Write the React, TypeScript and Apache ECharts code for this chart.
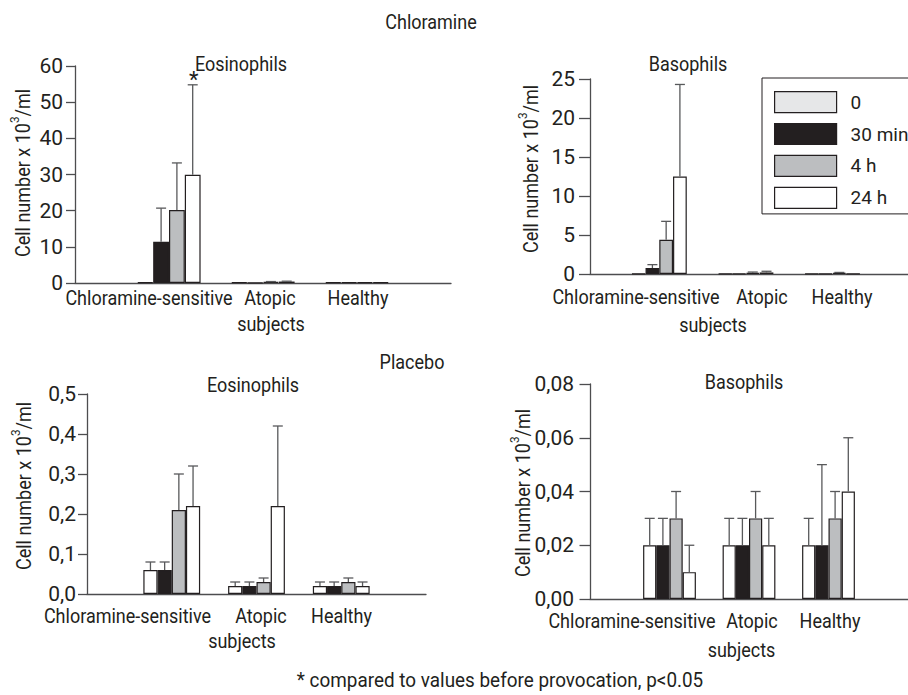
import React, { useEffect, useRef } from 'react';
import * as echarts from 'echarts';

// ---------- data ----------
const categories = ['Chloramine-sensitive', 'Atopic', 'Healthy'];
const categoryPos = [1, 2, 3];
const timePoints = ['0', '30 min', '4 h', '24 h'];

// Chloramine – Eosinophils (rows = time points, cols = categories)
const chlEosMean = [
  [0.2, 0.2, 0.2],
  [11.4, 0.1, 0.2],
  [20.2, 0.3, 0.2],
  [29.9, 0.4, 0.2],
];
const chlEosUpper = [
  [0.2, 0.2, 0.2],
  [20.7, 0.1, 0.2],
  [33.2, 0.4, 0.2],
  [54.8, 0.5, 0.2],
];
const chlEosSig = [
  [0, 0, 0],
  [0, 0, 0],
  [0, 0, 0],
  [1, 0, 0],
];
const chlEosTicks = [0, 10, 20, 30, 40, 50, 60];

// Chloramine – Basophils
const chlBasMean = [
  [0.05, 0.05, 0.02],
  [0.77, 0.05, 0.05],
  [4.4, 0.15, 0.15],
  [12.5, 0.2, 0.02],
];
const chlBasUpper = [
  [0.05, 0.05, 0.02],
  [1.2, 0.05, 0.05],
  [6.75, 0.25, 0.2],
  [24.3, 0.35, 0.02],
];
const chlBasSig = [
  [0, 0, 0],
  [0, 0, 0],
  [0, 0, 0],
  [0, 0, 0],
];
const chlBasTicks = [0, 5, 10, 15, 20, 25];

// Placebo – Eosinophils
const plaEosMean = [
  [0.06, 0.02, 0.02],
  [0.06, 0.02, 0.02],
  [0.21, 0.03, 0.03],
  [0.22, 0.22, 0.02],
];
const plaEosUpper = [
  [0.08, 0.03, 0.03],
  [0.08, 0.03, 0.03],
  [0.3, 0.04, 0.04],
  [0.32, 0.42, 0.03],
];
const plaEosSig = [
  [0, 0, 0],
  [0, 0, 0],
  [0, 0, 0],
  [0, 0, 0],
];
const plaEosTicks = [0, 0.1, 0.2, 0.3, 0.4, 0.5];

// Placebo – Basophils
const plaBasMean = [
  [0.02, 0.02, 0.02],
  [0.02, 0.02, 0.02],
  [0.03, 0.03, 0.03],
  [0.01, 0.02, 0.04],
];
const plaBasUpper = [
  [0.03, 0.03, 0.03],
  [0.03, 0.03, 0.05],
  [0.04, 0.04, 0.04],
  [0.02, 0.03, 0.06],
];
const plaBasSig = [
  [0, 0, 0],
  [0, 0, 0],
  [0, 0, 0],
  [0, 0, 0],
];
const plaBasTicks = [0, 0.02, 0.04, 0.06, 0.08];

// ---------- style / layout ----------
const FONT = 'Roboto, "Liberation Sans", sans-serif';
const TXT = '#231f20';
const AXIS = '#4d4d4f';
const ERR = '#58595b';
const TEXT_SCALE = 0.9;

type Panel = {
  mean: number[][];
  upper: number[][];
  sig: number[][];
  ticks: number[];
  decimals: number;
  grid: { left: number; top: number; width: number; height: number };
  xMin: number;
  xMax: number;
  barWidth: number;
  colors: string[];
  tickLen: number;
  labelMargin: number;
  title: string;
  titlePos: [number, number];
  yTitlePos: [number, number];
  labelPos: [number, number][]; // Chloramine-sensitive, Atopic, Healthy
  subjectsPos: [number, number];
};

const topColors = ['#e6e7e8', '#231f20', '#bcbec0', '#ffffff'];
const bottomColors = ['#ffffff', '#231f20', '#bcbec0', '#ffffff'];

const panels: Panel[] = [
  {
    mean: chlEosMean, upper: chlEosUpper, sig: chlEosSig, ticks: chlEosTicks, decimals: 0,
    grid: { left: 75, top: 66, width: 376, height: 217 }, xMin: 0, xMax: 4, barWidth: 15.8,
    colors: topColors, tickLen: 9, labelMargin: 12,
    title: 'Eosinophils', titlePos: [241, 64], yTitlePos: [21, 173],
    labelPos: [[149, 298], [270, 298], [358, 298]], subjectsPos: [271, 324],
  },
  {
    mean: chlBasMean, upper: chlBasUpper, sig: chlBasSig, ticks: chlBasTicks, decimals: 0,
    grid: { left: 590, top: 79, width: 318, height: 195 }, xMin: 0.2, xMax: 3.872, barWidth: 13.75,
    colors: topColors, tickLen: 11, labelMargin: 15,
    title: 'Basophils', titlePos: [688, 64], yTitlePos: [529, 169],
    labelPos: [[636, 297], [762, 297], [842, 297]], subjectsPos: [713, 325],
  },
  {
    mean: plaEosMean, upper: plaEosUpper, sig: plaEosSig, ticks: plaEosTicks, decimals: 1,
    grid: { left: 87, top: 394, width: 339, height: 200 }, xMin: 0, xMax: 4, barWidth: 14.2,
    colors: bottomColors, tickLen: 9, labelMargin: 11,
    title: 'Eosinophils', titlePos: [253, 385], yTitlePos: [22, 486],
    labelPos: [[127.5, 616], [261, 616], [341.5, 616]], subjectsPos: [242, 641],
  },
  {
    mean: plaBasMean, upper: plaBasUpper, sig: plaBasSig, ticks: plaBasTicks, decimals: 2,
    grid: { left: 590, top: 384, width: 318, height: 215 }, xMin: 0, xMax: 4, barWidth: 13.2,
    colors: bottomColors, tickLen: 10.5, labelMargin: 16,
    title: 'Basophils', titlePos: [744, 382], yTitlePos: [521, 493],
    labelPos: [[632, 621], [752, 621], [830, 621]], subjectsPos: [741.5, 650],
  },
];

function textEl(text: string, x: number, y: number, fontSize = 20, extra: any = {}) {
  return {
    type: 'text',
    x,
    y,
    scaleX: TEXT_SCALE,
    silent: true,
    ...extra,
    style: {
      text,
      fontSize,
      fontFamily: FONT,
      fill: TXT,
      align: 'center',
      verticalAlign: 'middle',
    },
  };
}

function yTitleEl(x: number, y: number) {
  return {
    type: 'text',
    x,
    y,
    rotation: Math.PI / 2,
    scaleX: TEXT_SCALE,
    silent: true,
    style: {
      text: '{a|Cell number x 10}{s|3}{a|/ml}',
      align: 'center',
      verticalAlign: 'middle',
      rich: {
        a: { fontSize: 20, fontFamily: FONT, fill: TXT, lineHeight: 25, verticalAlign: 'bottom' },
        s: { fontSize: 13, fontFamily: FONT, fill: TXT, verticalAlign: 'top' },
      },
    },
  };
}

function makeErrRender(offset: number) {
  return (params: any, api: any) => {
    const x = api.value(0);
    const m = api.value(1);
    const u = api.value(2);
    const s = api.value(3);
    const p0 = api.coord([x, m]);
    const p1 = api.coord([x, u]);
    const cx = p0[0] + offset;
    const children: any[] = [];
    if (u > m) {
      const st = { stroke: ERR, lineWidth: 1.3 };
      children.push({ type: 'line', shape: { x1: cx, y1: p0[1], x2: cx, y2: p1[1] }, style: st });
      children.push({ type: 'line', shape: { x1: cx - 5, y1: p1[1], x2: cx + 5, y2: p1[1] }, style: st });
    }
    if (s) {
      children.push({
        type: 'text',
        x: cx + 1,
        y: p1[1] + 6,
        style: { text: '*', fontSize: 22, fontFamily: FONT, fill: TXT, align: 'center', verticalAlign: 'bottom' },
      });
    }
    return { type: 'group', children };
  };
}

export default function App() {
  const ref = useRef<HTMLDivElement>(null);

  useEffect(() => {
    if (!ref.current) return;
    const chart = echarts.init(ref.current, undefined, { renderer: 'svg' });

    const grids: any[] = [];
    const xAxes: any[] = [];
    const yAxes: any[] = [];
    const series: any[] = [];
    const graphics: any[] = [];

    panels.forEach((p, pi) => {
      grids.push({ ...p.grid, containLabel: false });
      xAxes.push({
        type: 'value',
        gridIndex: pi,
        min: p.xMin,
        max: p.xMax,
        axisLine: { show: true, onZero: false, lineStyle: { color: AXIS, width: 1.3 } },
        axisTick: { show: false },
        axisLabel: { show: false },
        splitLine: { show: false },
      });
      yAxes.push({
        type: 'value',
        gridIndex: pi,
        min: p.ticks[0],
        max: p.ticks[p.ticks.length - 1],
        interval: p.ticks[1] - p.ticks[0],
        axisLine: { show: true, lineStyle: { color: AXIS, width: 1.3 } },
        axisTick: { show: true, length: p.tickLen, lineStyle: { color: AXIS, width: 1.3 } },
        axisLabel: {
          margin: p.labelMargin,
          fontSize: 21,
          fontFamily: FONT,
          color: TXT,
          formatter: (v: number) => v.toFixed(p.decimals).replace('.', ','),
        },
        splitLine: { show: false },
      });

      timePoints.forEach((tp, k) => {
        series.push({
          type: 'bar',
          name: tp,
          xAxisIndex: pi,
          yAxisIndex: pi,
          barWidth: p.barWidth,
          barGap: '0%',
          data: categoryPos.map((x, i) => [x, p.mean[k][i]]),
          itemStyle: { color: p.colors[k], borderColor: TXT, borderWidth: 1.2 },
          z: 2,
        });
        series.push({
          type: 'custom',
          name: 'err ' + tp,
          xAxisIndex: pi,
          yAxisIndex: pi,
          data: categoryPos.map((x, i) => [x, p.mean[k][i], p.upper[k][i], p.sig[k][i]]),
          encode: { x: 0, y: 1 },
          renderItem: makeErrRender((k - 1.5) * p.barWidth),
          z: 3,
        });
      });

      graphics.push(textEl(p.title, p.titlePos[0], p.titlePos[1]));
      graphics.push(yTitleEl(p.yTitlePos[0], p.yTitlePos[1]));
      categories.forEach((c, i) => {
        graphics.push(textEl(c, p.labelPos[i][0], p.labelPos[i][1]));
      });
      graphics.push(textEl('subjects', p.subjectsPos[0], p.subjectsPos[1]));
    });

    graphics.push(textEl('Chloramine', 431, 22));
    graphics.push(textEl('Placebo', 412, 362));
    graphics.push(textEl('* compared to values before provocation, p<0.05', 500, 680, 21));

    chart.setOption({
      animation: false,
      backgroundColor: '#ffffff',
      grid: grids,
      xAxis: xAxes,
      yAxis: yAxes,
      series,
      legend: {
        data: timePoints,
        orient: 'vertical',
        left: 762,
        top: 78,
        itemWidth: 62,
        itemHeight: 21,
        itemGap: 9.7,
        padding: [13, 2, 5, 12],
        borderColor: TXT,
        borderWidth: 1,
        icon: 'rect',
        selectedMode: false,
        itemStyle: { borderColor: TXT, borderWidth: 1.2 },
        textStyle: { fontFamily: FONT, fontSize: 19, color: TXT, padding: [0, 0, 0, 9], lineHeight: 21 },
      },
      graphic: graphics,
    });

    return () => chart.dispose();
  }, []);

  return (
    <div
      ref={ref}
      style={{ position: 'absolute', left: 0, top: 0, width: 908, height: 695, background: '#fff' }}
    />
  );
}
